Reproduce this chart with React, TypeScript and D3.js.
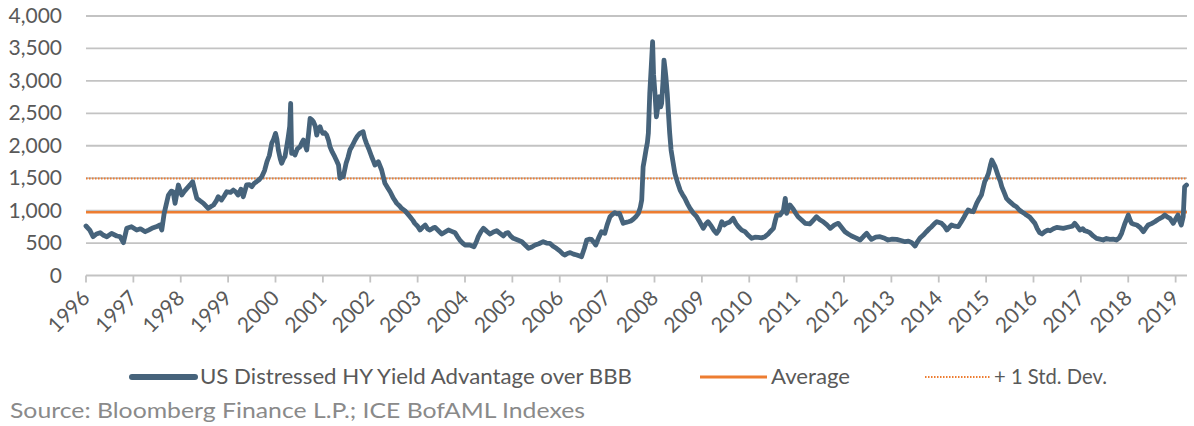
import React from "react";
import * as d3 from "d3";

// decimal-year dates and values
const dates = [
  1996.0, 1996.08, 1996.15, 1996.22, 1996.3, 1996.37, 1996.44, 1996.54, 1996.65, 1996.72, 1996.79, 1996.86, 1996.96,
  1997.07, 1997.15, 1997.25, 1997.32, 1997.39, 1997.48, 1997.56, 1997.6, 1997.65, 1997.74, 1997.8, 1997.84, 1997.88, 1997.95,
  1998.02, 1998.08, 1998.13, 1998.2, 1998.25, 1998.3, 1998.34, 1998.41, 1998.48, 1998.58, 1998.63, 1998.69, 1998.75, 1998.79, 1998.86, 1998.92, 1998.97,
  1999.05, 1999.11, 1999.16, 1999.21, 1999.27, 1999.32, 1999.39, 1999.45, 1999.5, 1999.55, 1999.6, 1999.66, 1999.71, 1999.77, 1999.82, 1999.87, 1999.92, 1999.96,
  2000.0, 2000.03, 2000.06, 2000.1, 2000.13, 2000.17, 2000.2, 2000.24, 2000.27, 2000.3, 2000.32, 2000.34, 2000.38, 2000.41, 2000.46, 2000.52, 2000.56, 2000.59, 2000.63, 2000.66, 2000.7, 2000.73, 2000.77, 2000.8, 2000.84, 2000.87, 2000.9, 2000.94, 2000.97,
  2001.0, 2001.04, 2001.08, 2001.12, 2001.15, 2001.2, 2001.25, 2001.29, 2001.33, 2001.36, 2001.4, 2001.43, 2001.49, 2001.53, 2001.57, 2001.62, 2001.68, 2001.73, 2001.78, 2001.85, 2001.88, 2001.92, 2001.97,
  2002.03, 2002.07, 2002.1, 2002.17, 2002.24, 2002.31, 2002.37, 2002.42, 2002.49, 2002.56, 2002.62, 2002.66, 2002.73, 2002.79, 2002.84, 2002.9, 2002.94,
  2003.0, 2003.05, 2003.1, 2003.16, 2003.21, 2003.26, 2003.32, 2003.37, 2003.44, 2003.51, 2003.58, 2003.65, 2003.72, 2003.79, 2003.84, 2003.89, 2003.95,
  2004.0, 2004.1, 2004.19, 2004.24, 2004.28, 2004.34, 2004.39, 2004.46, 2004.53, 2004.6, 2004.67, 2004.74, 2004.81, 2004.86, 2004.91, 2004.96,
  2005.02, 2005.1, 2005.2, 2005.27, 2005.34, 2005.41, 2005.48, 2005.56, 2005.65, 2005.72, 2005.79, 2005.86, 2005.93,
  2006.0, 2006.07, 2006.11, 2006.16, 2006.22, 2006.29, 2006.36, 2006.42, 2006.46, 2006.52, 2006.57, 2006.62, 2006.67, 2006.72, 2006.76, 2006.82, 2006.88, 2006.95,
  2007.0, 2007.06, 2007.11, 2007.16, 2007.21, 2007.26, 2007.3, 2007.34, 2007.4, 2007.45, 2007.5, 2007.55, 2007.6, 2007.66, 2007.7, 2007.73, 2007.76, 2007.79, 2007.82, 2007.85, 2007.87, 2007.9, 2007.93, 2007.96, 2007.98,
  2008.01, 2008.04, 2008.07, 2008.1, 2008.13, 2008.15, 2008.18, 2008.2, 2008.22, 2008.24, 2008.27, 2008.29, 2008.32, 2008.35, 2008.39, 2008.43, 2008.48, 2008.54, 2008.59, 2008.64, 2008.7, 2008.75, 2008.82, 2008.89, 2008.96,
  2009.03, 2009.08, 2009.13, 2009.2, 2009.25, 2009.31, 2009.36, 2009.42, 2009.47, 2009.52, 2009.58, 2009.66, 2009.72, 2009.77, 2009.84, 2009.91, 2009.98,
  2010.05, 2010.12, 2010.19, 2010.26, 2010.33, 2010.4, 2010.44, 2010.51, 2010.55, 2010.58, 2010.65, 2010.72, 2010.76, 2010.79, 2010.83, 2010.86, 2010.93, 2010.98,
  2011.03, 2011.1, 2011.18, 2011.28, 2011.35, 2011.42, 2011.49, 2011.56, 2011.64, 2011.71, 2011.8, 2011.88, 2011.95,
  2012.02, 2012.09, 2012.16, 2012.25, 2012.34, 2012.41, 2012.48, 2012.53, 2012.58, 2012.67, 2012.76, 2012.86, 2012.93,
  2013.02, 2013.11, 2013.2, 2013.29, 2013.36, 2013.43, 2013.5, 2013.55, 2013.6, 2013.67, 2013.74, 2013.8, 2013.85, 2013.91, 2013.96,
  2014.06, 2014.12, 2014.17, 2014.22, 2014.27, 2014.34, 2014.41, 2014.47, 2014.52, 2014.57, 2014.62, 2014.68, 2014.73, 2014.8, 2014.85, 2014.9, 2014.97,
  2015.01, 2015.05, 2015.09, 2015.12, 2015.16, 2015.19, 2015.26, 2015.3, 2015.33, 2015.38, 2015.43, 2015.48, 2015.54, 2015.59, 2015.64, 2015.7, 2015.75, 2015.8, 2015.85, 2015.92,
  2016.03, 2016.08, 2016.13, 2016.18, 2016.24, 2016.3, 2016.35, 2016.42, 2016.49, 2016.56, 2016.63, 2016.7, 2016.77, 2016.82, 2016.87, 2016.93, 2016.98,
  2017.04, 2017.08, 2017.13, 2017.19, 2017.26, 2017.33, 2017.4, 2017.47, 2017.54, 2017.61, 2017.68, 2017.75, 2017.81, 2017.86, 2017.93,
  2018.0, 2018.04, 2018.07, 2018.12, 2018.18, 2018.25, 2018.32, 2018.37, 2018.42, 2018.49, 2018.56, 2018.62, 2018.67, 2018.72, 2018.77, 2018.83, 2018.88, 2018.95,
  2019.0, 2019.05, 2019.09, 2019.12, 2019.16, 2019.19, 2019.23,
];

const values = [
  763, 700, 598, 640, 660, 620, 598, 650, 609, 600, 506, 727, 752,
  701, 720, 675, 700, 727, 750, 778, 701, 958, 1240, 1300, 1291, 1112, 1395,
  1240, 1300, 1343, 1400, 1446, 1300, 1190, 1150, 1112, 1035, 1060, 1086, 1150, 1215, 1163, 1230, 1291,
  1280, 1317, 1290, 1240, 1330, 1215, 1395, 1400, 1369, 1420, 1446, 1480, 1523, 1620, 1754, 1850, 2037, 2100,
  2191, 2100, 1934, 1800, 1729, 1800, 1831, 2000, 2139, 2300, 2653, 1883, 1900, 1857, 1950, 1985, 2050, 2088, 2000, 1934, 2200, 2422, 2400, 2370, 2300, 2165, 2250, 2293, 2230,
  2191, 2200, 2165, 2080, 1985, 1900, 1831, 1770, 1703, 1498, 1550, 1523, 1729, 1820, 1934, 2000, 2088, 2150, 2191, 2216, 2120, 2037, 1950,
  1831, 1760, 1703, 1754, 1626, 1421, 1350, 1291, 1190, 1112, 1070, 1035, 1000, 950, 906, 850, 804,
  760, 701, 740, 778, 720, 701, 730, 742, 690, 639, 670, 701, 680, 660, 600, 547, 500,
  470, 470, 444, 520, 598, 680, 727, 680, 639, 670, 690, 650, 609, 650, 660, 610,
  573, 550, 521, 470, 419, 440, 470, 490, 521, 500, 496, 450, 419,
  380, 330, 316, 340, 352, 330, 316, 300, 290, 420, 547, 560, 557, 510, 470, 580, 675, 650,
  780, 906, 940, 968, 950, 958, 880, 804, 820, 829, 840, 866, 900, 958, 1050, 1163, 1677, 1800, 1934, 2050, 2191, 2808, 3200, 3603, 3100,
  2808, 2447, 2600, 2755, 2600, 2653, 3000, 3321, 3200, 3064, 2800, 2550, 2200, 1934, 1750, 1575, 1450, 1317, 1250, 1190, 1100, 1035, 960, 906, 820,
  727, 790, 829, 760, 700, 650, 700, 829, 780, 804, 820, 881, 800, 752, 700, 675, 620,
  573, 590, 588, 580, 598, 640, 675, 727, 850, 932, 932, 1000, 1190, 958, 1050, 1086, 1020, 960,
  906, 860, 804, 794, 850, 906, 860, 829, 780, 727, 780, 804, 740,
  675, 640, 609, 580, 547, 600, 650, 600, 557, 590, 598, 573, 547,
  560, 557, 540, 521, 530, 506, 454, 520, 573, 620, 675, 720, 752, 800, 829,
  804, 760, 701, 740, 778, 760, 752, 820, 881, 950, 1009, 990, 983, 1112, 1180, 1240, 1446,
  1500, 1575, 1700, 1780, 1720, 1677, 1523, 1450, 1369, 1280, 1190, 1150, 1112, 1080, 1060, 1010, 983, 960, 932, 900,
  804, 720, 660, 640, 675, 700, 690, 720, 742, 735, 727, 740, 752, 760, 804, 750, 701,
  720, 690, 680, 660, 610, 573, 560, 547, 570, 557, 560, 547, 580, 650, 804,
  932, 850, 804, 790, 778, 740, 675, 730, 778, 800, 829, 860, 881, 900, 932, 900, 881, 804,
  870, 932, 830, 778, 906, 1369, 1395,
];

const averageValue = 975;
const plusOneStdDev = 1497;
const yTicks = [0, 500, 1000, 1500, 2000, 2500, 3000, 3500, 4000];
const xTickYears = d3.range(1996, 2020);
const lastDate = 2019.24;

const seriesLabel = "US Distressed HY Yield Advantage over BBB";
const averageLabel = "Average";
const stdDevLabel = "+ 1 Std. Dev.";
const sourceLabel = "Source: Bloomberg Finance L.P.; ICE BofAML Indexes";

const W = 1194;
const H = 426;
const M = { left: 86, right: 1187, top: 16, bottom: 275.5 };
const FONT = "Lato, 'Open Sans', sans-serif";
const BLUE = "#46637b";
const ORANGE = "#ed7d31";
const GRID = "#c3c3c3";
const TEXT = "#595959";

export default function App() {
  const x = d3.scaleLinear().domain([1996, lastDate]).range([M.left, M.right]);
  const y = d3.scaleLinear().domain([0, 4000]).range([M.bottom, M.top]);
  const points: [number, number][] = dates.map((d, i) => [d, values[i]]);
  const line = d3
    .line<[number, number]>()
    .x((d) => x(d[0]))
    .y((d) => y(d[1]));

  return (
    <div style={{ position: "absolute", left: 0, top: 0 }}>
      <svg width={W} height={H} style={{ display: "block", background: "#fff" }} fontFamily={FONT}>
        {/* gridlines */}
        {yTicks.map((t) => (
          <line key={t} x1={M.left} x2={M.right} y1={y(t)} y2={y(t)} stroke={GRID} strokeWidth={1.8} />
        ))}
        {/* x-axis ticks */}
        {xTickYears.map((yr) => (
          <line key={yr} x1={x(yr)} x2={x(yr)} y1={y(0)} y2={y(0) + 7} stroke={GRID} strokeWidth={1.8} />
        ))}
        {/* y labels */}
        {yTicks.map((t) => (
          <text key={t} x={62} y={y(t) + 7} textAnchor="end" fontSize={21} fill={TEXT}>
            {d3.format(",")(t)}
          </text>
        ))}
        {/* x labels */}
        {xTickYears.map((yr) => (
          <text
            key={yr}
            transform={`translate(${x(yr) + 5},${y(0) + 24}) rotate(-45)`}
            textAnchor="end"
            fontSize={21}
            fill={TEXT}
          >
            {yr}
          </text>
        ))}
        {/* reference lines */}
        <line x1={M.left} x2={M.right} y1={y(plusOneStdDev)} y2={y(plusOneStdDev)} stroke={ORANGE} strokeWidth={2} strokeDasharray="1.5 1.5" />
        <line x1={M.left} x2={M.right} y1={y(averageValue)} y2={y(averageValue)} stroke={ORANGE} strokeWidth={2.6} />
        {/* series */}
        <path d={line(points) || ""} fill="none" stroke={BLUE} strokeWidth={4.8} strokeLinejoin="round" strokeLinecap="round" />

        {/* legend */}
        <line x1={132} x2={195} y1={377} y2={377} stroke={BLUE} strokeWidth={6} strokeLinecap="round" />
        <text x={200} y={384} fontSize={21} fill={TEXT} textLength={432} lengthAdjust="spacingAndGlyphs">
          {seriesLabel}
        </text>
        <line x1={700} x2={767} y1={377} y2={377} stroke={ORANGE} strokeWidth={3} />
        <text x={771} y={384} fontSize={21} fill={TEXT} textLength={79} lengthAdjust="spacingAndGlyphs">
          {averageLabel}
        </text>
        <line x1={925} x2={990} y1={377} y2={377} stroke={ORANGE} strokeWidth={2} strokeDasharray="1.5 1.5" />
        <text x={994} y={384} fontSize={21} fill={TEXT} textLength={113} lengthAdjust="spacingAndGlyphs">
          {stdDevLabel}
        </text>
        <text x={10} y={418} fontSize={22} fill="#8a8a8a" textLength={575} lengthAdjust="spacingAndGlyphs">
          {sourceLabel}
        </text>
      </svg>
    </div>
  );
}
